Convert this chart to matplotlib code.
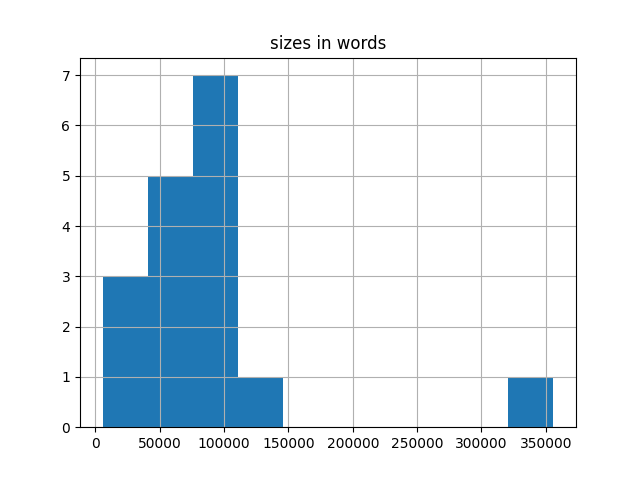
import matplotlib
matplotlib.use('Agg')
import matplotlib.pyplot as plt

# word counts per text
sizes_in_words = [
    5500, 22000, 31000,
    45000, 52000, 60000, 66000, 71000,
    78000, 83000, 88000, 92000, 97000, 101000, 106000,
    128000,
    356000,
]
NUM_BINS = 10

fig, ax = plt.subplots(figsize=(6.4, 4.8), dpi=100)
ax.hist(sizes_in_words, bins=NUM_BINS, color='#1f77b4')
ax.grid(True)
ax.set_title('sizes in words')

fig.savefig('out.png')
